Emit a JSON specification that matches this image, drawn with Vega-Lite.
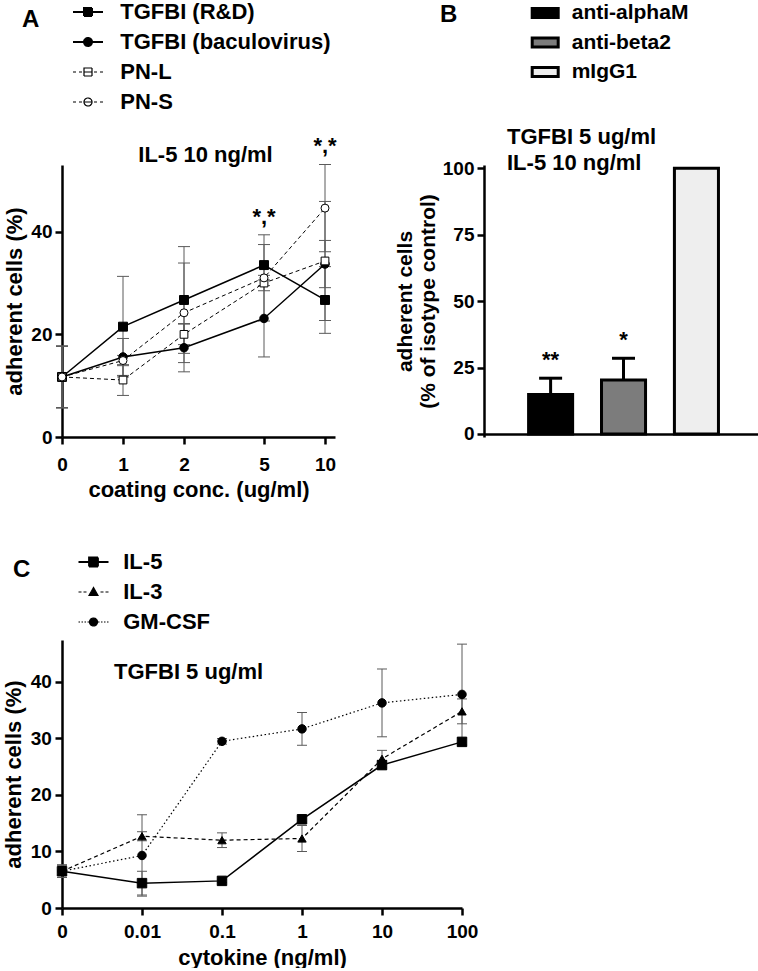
{
  "$schema": "https://vega.github.io/schema/vega-lite/v6.json",
  "padding": {"left": 2, "top": 1, "right": 0, "bottom": 0},
  "columns": 2,
  "bounds": "flush",
  "spacing": {"row": 203, "column": 22},
  "resolve": {
    "scale": {"shape": "independent", "fill": "independent", "strokeDash": "independent", "strokeWidth": "independent", "size": "independent", "color": "independent", "opacity": "independent"},
    "legend": {"shape": "independent", "fill": "independent", "strokeDash": "independent", "opacity": "independent"}
  },
  "config": {
    "font": "Liberation Sans",
    "view": {"stroke": null},
    "axis": {"domainColor": "black", "domainWidth": 2.5, "tickColor": "black", "tickWidth": 2.5, "tickSize": 7, "labelFont": "Liberation Sans", "labelFontSize": 19, "labelFontWeight": "bold", "labelColor": "black", "titleFont": "Liberation Sans", "titleFontSize": 22, "titleFontWeight": "bold", "titleColor": "black", "grid": false, "labelFlush": false, "labelOverlap": false},
    "legend": {"labelFont": "Liberation Sans", "labelFontWeight": "bold", "labelColor": "black", "titleFont": "Liberation Sans", "titleFontWeight": "bold", "titleColor": "black", "titleFontSize": 24, "orient": "none", "direction": "vertical", "titleOrient": "left", "titleAnchor": "start", "titleBaseline": "top", "padding": 0, "labelLimit": 400, "symbolSize": 400, "symbolStrokeColor": "black"},
    "title": {"font": "Liberation Sans", "fontSize": 22, "fontWeight": "bold", "color": "black"}
  },
  "concat": [
    {
      "width": 273,
      "height": 272,
      "title": {"text": "IL-5 10 ng/ml", "anchor": "middle", "frame": "group", "dx": 7, "dy": 183, "baseline": "alphabetic", "offset": 0},
      "data": {"values": [
        {"series": "TGFBI (R&D)", "conc": 0, "mean": 11.7, "sd": 6.0},
        {"series": "TGFBI (R&D)", "conc": 1, "mean": 21.5, "sd": 9.8},
        {"series": "TGFBI (R&D)", "conc": 2, "mean": 26.7, "sd": 10.4},
        {"series": "TGFBI (R&D)", "conc": 5, "mean": 33.5, "sd": 4.0},
        {"series": "TGFBI (R&D)", "conc": 10, "mean": 26.7, "sd": 6.5},
        {"series": "TGFBI (baculovirus)", "conc": 0, "mean": 11.7, "sd": 6.0},
        {"series": "TGFBI (baculovirus)", "conc": 1, "mean": 15.6, "sd": 3.6},
        {"series": "TGFBI (baculovirus)", "conc": 2, "mean": 17.4, "sd": 4.7},
        {"series": "TGFBI (baculovirus)", "conc": 5, "mean": 23.1, "sd": 7.5},
        {"series": "TGFBI (baculovirus)", "conc": 10, "mean": 33.7, "sd": 4.6},
        {"series": "PN-L", "conc": 0, "mean": 11.7, "sd": 6.0},
        {"series": "PN-L", "conc": 1, "mean": 11.1, "sd": 3.0},
        {"series": "PN-L", "conc": 2, "mean": 20.0, "sd": 2.0},
        {"series": "PN-L", "conc": 5, "mean": 30.0, "sd": 1.5},
        {"series": "PN-L", "conc": 10, "mean": 34.3, "sd": 11.6},
        {"series": "PN-S", "conc": 0, "mean": 11.7, "sd": 6.0},
        {"series": "PN-S", "conc": 1, "mean": 14.9, "sd": 1.0},
        {"series": "PN-S", "conc": 2, "mean": 24.2, "sd": 9.7},
        {"series": "PN-S", "conc": 5, "mean": 31.0, "sd": 8.4, "sig": "*,*"},
        {"series": "PN-S", "conc": 10, "mean": 44.6, "sd": 8.5, "sig": "*,*"}
      ]},
      "encoding": {
        "x": {"field": "conc", "type": "quantitative", "scale": {"domain": [0, 1, 2, 5, 10, 10.8], "range": [0, 61, 122, 202, 263, 273], "nice": false, "zero": false}, "axis": {"values": [0, 1, 2, 5, 10], "title": "coating conc. (ug/ml)", "labelPadding": 11, "titlePadding": 5.8}},
        "y": {"field": "mean", "type": "quantitative", "scale": {"domain": [0, 53], "nice": false}, "axis": {"values": [0, 20, 40], "title": "adherent cells (%)", "labelPadding": 3, "titlePadding": 4.3}}
      },
      "layer": [
        {"mark": {"type": "errorbar", "color": "#5a5a5a", "thickness": 1, "ticks": {"size": 12, "thickness": 1, "color": "#5a5a5a", "opacity": 1}},
         "encoding": {"yError": {"field": "sd"}, "detail": {"field": "series", "type": "nominal"}}},
        {"transform": [{"filter": "datum.series === 'TGFBI (R&D)' || datum.series === 'TGFBI (baculovirus)'"}],
         "mark": {"type": "line", "color": "black", "strokeWidth": 1.5},
         "encoding": {
           "detail": {"field": "series", "type": "nominal"},
           "opacity": {"field": "series", "type": "nominal", "scale": {"domain": ["TGFBI (R&D)", "TGFBI (baculovirus)", "PN-L", "PN-S"], "range": [1, 1, 1, 1]},
             "legend": {"title": "A", "legendX": -40, "legendY": -164, "titlePadding": 37, "labelFontSize": 22, "labelOffset": 21.25, "rowPadding": 8, "symbolStrokeWidth": 1.5, "symbolSize": 400,
               "encode": {
                 "title": {"update": {"dy": {"value": 7.2}}},
                 "symbols": {"update": {
                   "shape": {"signal": "datum.value === 'TGFBI (R&D)' ? 'M-1.5,0H1.5M-0.4,-0.4H0.4V0.4H-0.4Z' : datum.value === 'TGFBI (baculovirus)' ? 'M-1.5,0H1.5M0.4,0A0.4,0.4,0,1,1,-0.4,0A0.4,0.4,0,1,1,0.4,0Z' : datum.value === 'PN-L' ? 'M-1.5,0H-1.2M-0.9,0H-0.6M0.6,0H0.9M1.2,0H1.5M-0.4,-0.4H0.4V0.4H-0.4ZM-0.4,0H0.4' : 'M-1.5,0H-1.2M-0.9,0H-0.6M0.6,0H0.9M1.2,0H1.5M0.4,0A0.4,0.4,0,1,1,-0.4,0A0.4,0.4,0,1,1,0.4,0ZM-0.4,0H0.4'"},
                   "fill": {"signal": "(datum.value === 'PN-L' || datum.value === 'PN-S') ? 'white' : 'black'"},
                   "stroke": {"value": "black"},
                   "strokeDash": {"value": [1, 0]},
                   "strokeWidth": {"signal": "(datum.value === 'PN-L' || datum.value === 'PN-S') ? 1.2 : 2"},
                   "opacity": {"value": 1},
                   "size": {"value": 400}
                 }}
               }}}
         }},
        {"transform": [{"filter": "datum.series === 'PN-L' || datum.series === 'PN-S'"}],
         "mark": {"type": "line", "color": "black", "strokeWidth": 1, "strokeDash": [4, 3]},
         "encoding": {"detail": {"field": "series", "type": "nominal"}}},
        {"transform": [{"filter": "datum.series === 'TGFBI (R&D)'"}],
         "mark": {"type": "point", "shape": "square", "filled": true, "fill": "black", "stroke": "black", "strokeWidth": 1, "opacity": 1, "size": 80}},
        {"transform": [{"filter": "datum.series === 'TGFBI (baculovirus)'"}],
         "mark": {"type": "point", "shape": "circle", "filled": true, "fill": "black", "stroke": "black", "strokeWidth": 1, "opacity": 1, "size": 72}},
        {"transform": [{"filter": "datum.series === 'PN-L'"}],
         "mark": {"type": "point", "shape": "square", "filled": true, "fill": "white", "stroke": "black", "strokeWidth": 1, "opacity": 1, "size": 60}},
        {"transform": [{"filter": "datum.series === 'PN-S'"}],
         "mark": {"type": "point", "shape": "circle", "filled": true, "fill": "white", "stroke": "black", "strokeWidth": 1, "opacity": 1, "size": 64}},
        {"transform": [{"filter": "datum.sig != null"}, {"calculate": "datum.mean + datum.sd", "as": "upper"}],
         "mark": {"type": "text", "fontSize": 22, "fontWeight": "bold", "baseline": "alphabetic", "align": "center", "color": "black", "dy": -11},
         "encoding": {"y": {"field": "upper", "type": "quantitative"}, "text": {"field": "sig", "type": "nominal"}}}
      ]
    },
    {
      "width": 274,
      "height": 272,
      "title": {"text": ["TGFBI 5 ug/ml", "IL-5 10 ng/ml"], "anchor": "start", "frame": "group", "dx": 23, "dy": 192, "baseline": "alphabetic", "lineHeight": 26, "offset": 2},
      "data": {"values": [
        {"group": "anti-alphaM", "mean": 14.9, "upper": 21.0, "star": "**"},
        {"group": "anti-beta2", "mean": 20.3, "upper": 28.5, "star": "*"},
        {"group": "mIgG1", "mean": 100, "upper": null, "star": null}
      ]},
      "encoding": {
        "x": {"field": "group", "type": "nominal", "scale": {"domain": ["anti-alphaM", "anti-beta2", "mIgG1"], "paddingInner": 0.396, "paddingOuter": 0.577, "align": 0.53}, "axis": {"labels": false, "ticks": false, "title": null, "offset": -3}},
        "y": {"field": "mean", "type": "quantitative", "scale": {"domain": [-1.13, 101.24], "nice": false, "zero": false}, "axis": {"values": [0, 25, 50, 75, 100], "title": ["adherent cells", "(% of isotype control)"], "titleFontSize": 21, "titleLineHeight": 23, "labelPadding": 3, "titlePadding": 3.4}}
      },
      "layer": [
        {"mark": {"type": "bar", "stroke": "black", "strokeWidth": 3},
         "encoding": {
           "y2": {"datum": 0},
           "fill": {"field": "group", "type": "nominal", "scale": {"domain": ["anti-alphaM", "anti-beta2", "mIgG1"], "range": ["black", "#7c7c7c", "#eeeeee"]},
             "legend": {"title": "B", "legendX": -44, "legendY": -163.5, "titlePadding": 75.7, "labelFontSize": 21, "labelOffset": 15, "rowPadding": 7.5, "symbolType": "M-1.3,-0.45H1.3V0.45H-1.3Z", "symbolStrokeWidth": 3, "symbolSize": 400,
               "encode": {
                 "title": {"update": {"dy": {"value": 1.7}}},
                 "symbols": {"update": {"stroke": {"value": "black"}, "strokeWidth": {"value": 3}, "opacity": {"value": 1}}}
               }}}
         }},
        {"transform": [{"filter": "datum.upper != null"}], "mark": {"type": "rule", "strokeWidth": 3, "color": "black"},
         "encoding": {"y2": {"field": "upper"}}},
        {"transform": [{"filter": "datum.upper != null"}], "mark": {"type": "tick", "thickness": 3, "size": 23, "color": "black", "opacity": 1},
         "encoding": {"y": {"field": "upper", "type": "quantitative"}}},
        {"transform": [{"filter": "datum.star != null"}], "mark": {"type": "text", "fontSize": 22, "fontWeight": "bold", "baseline": "alphabetic", "align": "center", "color": "black", "dy": -11},
         "encoding": {"y": {"field": "upper", "type": "quantitative"}, "text": {"field": "star", "type": "nominal"}}}
      ]
    },
    {
      "width": 400,
      "height": 268,
      "title": {"text": "TGFBI 5 ug/ml", "anchor": "start", "frame": "group", "dx": 52, "dy": 150, "baseline": "alphabetic", "offset": 0},
      "data": {"values": [
        {"series": "IL-5", "conc": "0", "mean": 6.5, "sd": 1.1},
        {"series": "IL-5", "conc": "0.01", "mean": 4.4, "sd": 2.1},
        {"series": "IL-5", "conc": "0.1", "mean": 4.8, "sd": 0.3},
        {"series": "IL-5", "conc": "1", "mean": 15.7, "sd": 0.5},
        {"series": "IL-5", "conc": "10", "mean": 25.3, "sd": 0.8},
        {"series": "IL-5", "conc": "100", "mean": 29.4, "sd": 0.7},
        {"series": "IL-3", "conc": "0", "mean": 6.5, "sd": 1.1},
        {"series": "IL-3", "conc": "0.01", "mean": 12.7, "sd": 0.8},
        {"series": "IL-3", "conc": "0.1", "mean": 12.0, "sd": 1.3},
        {"series": "IL-3", "conc": "1", "mean": 12.3, "sd": 2.3},
        {"series": "IL-3", "conc": "10", "mean": 26.4, "sd": 1.5},
        {"series": "IL-3", "conc": "100", "mean": 34.8, "sd": 2.2},
        {"series": "GM-CSF", "conc": "0", "mean": 6.5, "sd": 1.1},
        {"series": "GM-CSF", "conc": "0.01", "mean": 9.3, "sd": 7.2},
        {"series": "GM-CSF", "conc": "0.1", "mean": 29.5, "sd": 0.5},
        {"series": "GM-CSF", "conc": "1", "mean": 31.7, "sd": 2.9},
        {"series": "GM-CSF", "conc": "10", "mean": 36.3, "sd": 6.0},
        {"series": "GM-CSF", "conc": "100", "mean": 37.8, "sd": 8.9}
      ]},
      "encoding": {
        "x": {"field": "conc", "type": "ordinal", "sort": ["0", "0.01", "0.1", "1", "10", "100"], "scale": {"type": "point", "domain": ["0", "0.01", "0.1", "1", "10", "100"], "padding": 0}, "axis": {"labelAngle": 0, "title": "cytokine (ng/ml)", "labelPadding": 7.3, "titlePadding": 5.7}},
        "y": {"field": "mean", "type": "quantitative", "scale": {"domain": [0, 47.43], "nice": false}, "axis": {"values": [0, 10, 20, 30, 40], "title": "adherent cells (%)", "labelPadding": 3.7, "titlePadding": 4.3}}
      },
      "layer": [
        {"mark": {"type": "errorbar", "color": "#5a5a5a", "thickness": 1, "ticks": {"size": 10, "thickness": 1, "color": "#5a5a5a", "opacity": 1}},
         "encoding": {"yError": {"field": "sd"}, "detail": {"field": "series", "type": "nominal"}}},
        {"transform": [{"filter": "datum.series === 'IL-5'"}],
         "mark": {"type": "line", "color": "black", "strokeWidth": 1.5},
         "encoding": {
           "opacity": {"field": "series", "type": "nominal", "scale": {"domain": ["IL-5", "IL-3", "GM-CSF"], "range": [1, 1, 1]},
             "legend": {"title": "C", "legendX": -49, "legendY": -89, "titlePadding": 51.5, "labelFontSize": 22, "labelOffset": 18.75, "rowPadding": 8, "symbolStrokeWidth": 1.5, "symbolSize": 400,
               "encode": {
                 "title": {"update": {"dy": {"value": 7.2}}},
                 "symbols": {"update": {
                   "shape": {"signal": "datum.value === 'IL-5' ? 'M-1.5,0H1.5M-0.45,-0.45H0.45V0.45H-0.45Z' : datum.value === 'IL-3' ? 'M-1.5,0H-1.2M-1,0H-0.7M0.7,0H1M1.2,0H1.5M0,-0.45L0.45,0.35L-0.45,0.35Z' : 'M-1.5,0H-1.35M-1.2,0H-1.05M-0.9,0H-0.75M-0.6,0H-0.45M0.45,0H0.6M0.75,0H0.9M1.05,0H1.2M1.35,0H1.5M0.4,0A0.4,0.4,0,1,1,-0.4,0A0.4,0.4,0,1,1,0.4,0Z'"},
                   "fill": {"value": "black"},
                   "stroke": {"value": "black"},
                   "strokeDash": {"value": [1, 0]},
                   "strokeWidth": {"signal": "datum.value === 'IL-5' ? 1.8 : 1.2"},
                   "opacity": {"value": 1},
                   "size": {"value": 400}
                 }}
               }}}
         }},
        {"transform": [{"filter": "datum.series === 'IL-3'"}],
         "mark": {"type": "line", "color": "black", "strokeWidth": 1.2, "strokeDash": [4, 3]}},
        {"transform": [{"filter": "datum.series === 'GM-CSF'"}],
         "mark": {"type": "line", "color": "black", "strokeWidth": 1.2, "strokeDash": [1.5, 2.5]}},
        {"transform": [{"filter": "datum.series === 'IL-5'"}],
         "mark": {"type": "point", "shape": "square", "filled": true, "fill": "black", "stroke": "black", "strokeWidth": 1, "opacity": 1, "size": 90}},
        {"transform": [{"filter": "datum.series === 'IL-3'"}],
         "mark": {"type": "point", "shape": "triangle-up", "filled": true, "fill": "black", "stroke": "black", "strokeWidth": 1, "opacity": 1, "size": 70}},
        {"transform": [{"filter": "datum.series === 'GM-CSF'"}],
         "mark": {"type": "point", "shape": "circle", "filled": true, "fill": "black", "stroke": "black", "strokeWidth": 1, "opacity": 1, "size": 72}}
      ]
    }
  ]
}
